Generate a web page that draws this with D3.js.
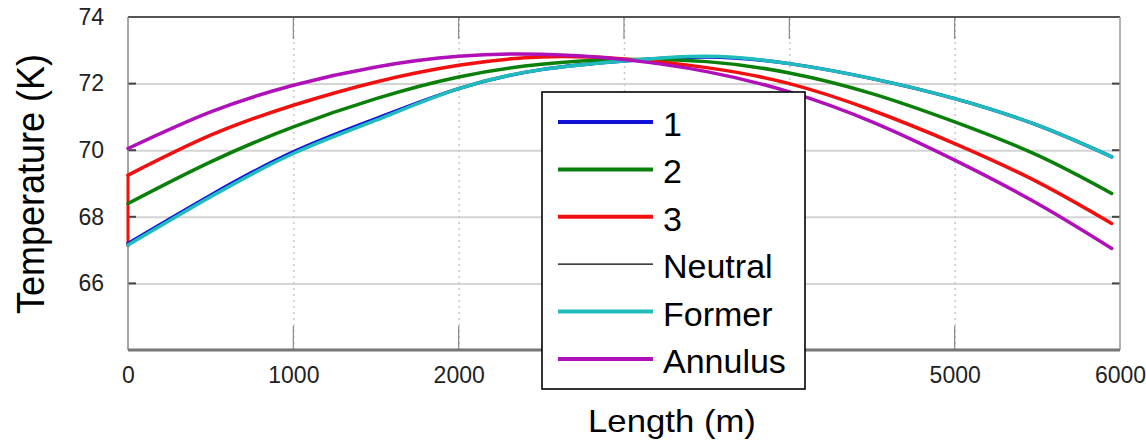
<!DOCTYPE html>
<html>
<head>
<meta charset="UTF-8">
<title>Temperature vs Length</title>
<script src="https://d3js.org/d3.v7.min.js"></script>
<style>
  body { margin: 0; background: #fff; }
  text { font-family: "Liberation Sans", Arial, sans-serif; }
</style>
</head>
<body>
<div id="my_dataviz"></div>
<script>
// data (length in m, temperature in K)
var lengths = [0, 500, 1000, 1500, 2000, 2500, 3000, 3500, 4000, 4500, 5000, 5500, 5950];
var series1 = [67.2, 68.65, 69.95, 70.95, 71.85, 72.42, 72.68, 72.8, 72.6, 72.15, 71.55, 70.75, 69.8];
var series2 = [68.4, 69.65, 70.7, 71.55, 72.2, 72.58, 72.72, 72.66, 72.32, 71.7, 70.85, 69.85, 68.7];
var series3 = [69.25, 70.45, 71.35, 72.05, 72.55, 72.8, 72.74, 72.48, 72.0, 71.2, 70.2, 69.05, 67.8];
var series3Start = 67.1;
var neutral = [67.15, 68.6, 69.9, 70.9, 71.85, 72.42, 72.68, 72.82, 72.6, 72.15, 71.55, 70.75, 69.8];
var former = [67.15, 68.6, 69.9, 70.9, 71.85, 72.42, 72.68, 72.82, 72.6, 72.15, 71.55, 70.75, 69.8];
var annulus = [70.05, 71.15, 71.95, 72.5, 72.82, 72.88, 72.72, 72.36, 71.75, 70.85, 69.7, 68.4, 67.05];

var seriesNames = ["1", "2", "3", "Neutral", "Former", "Annulus"];
var seriesColors = ["#1010d8", "#0a800a", "#f01010", "#000000", "#20bcbc", "#b010b8"];
var xTickLabels = [0, 1000, 2000, 5000, 6000];
var yTickLabels = [66, 68, 70, 72, 74];

var allSeries = [series1, series2, series3, neutral, former, annulus];

var margin = {top: 17, right: 26, bottom: 92, left: 128},
    width = 1146 - margin.left - margin.right,
    height = 442 - margin.top - margin.bottom;

var svg = d3.select("#my_dataviz")
  .append("svg")
    .attr("width", 1146)
    .attr("height", 442)
  .append("g")
    .attr("transform", "translate(" + margin.left + "," + margin.top + ")");

var x = d3.scaleLinear().domain([0, 6000]).range([0, width]);
var y = d3.scaleLinear().domain([64, 74]).range([height, 0]);

// horizontal grid
svg.append("g")
  .call(d3.axisLeft(y).tickValues([66, 68, 70, 72]).tickSize(-width).tickFormat(""))
  .call(function(g) { g.select(".domain").remove(); })
  .selectAll("line")
    .attr("stroke", "#d4d4d4")
    .attr("stroke-width", 2);

// vertical dotted grid
svg.append("g")
  .attr("transform", "translate(0," + height + ")")
  .call(d3.axisBottom(x).tickValues([1000, 2000, 3000, 4000, 5000]).tickSize(-height).tickFormat(""))
  .call(function(g) { g.select(".domain").remove(); })
  .selectAll("line")
    .attr("stroke", "#c8c8c8")
    .attr("stroke-width", 1.5)
    .attr("stroke-dasharray", "2,4");

// tick marks on the frame
svg.append("g").selectAll("line").data([1000, 2000, 3000, 4000, 5000]).enter()
  .append("line")
    .attr("x1", function(d) { return x(d); }).attr("x2", function(d) { return x(d); })
    .attr("y1", 0).attr("y2", 22)
    .attr("stroke", "#888").attr("stroke-width", 1.2);
svg.append("g").selectAll("line").data([1000, 2000, 3000, 4000, 5000]).enter()
  .append("line")
    .attr("x1", function(d) { return x(d); }).attr("x2", function(d) { return x(d); })
    .attr("y1", height - 24).attr("y2", height)
    .attr("stroke", "#888").attr("stroke-width", 1.2);
svg.append("g").selectAll("line").data([66, 68, 70, 72]).enter()
  .append("line")
    .attr("x1", 0).attr("x2", 8)
    .attr("y1", function(d) { return y(d); }).attr("y2", function(d) { return y(d); })
    .attr("stroke", "#444").attr("stroke-width", 2);
svg.append("g").selectAll("line").data([66, 68, 70, 72]).enter()
  .append("line")
    .attr("x1", width - 8).attr("x2", width)
    .attr("y1", function(d) { return y(d); }).attr("y2", function(d) { return y(d); })
    .attr("stroke", "#444").attr("stroke-width", 2);

// frame
svg.append("line").attr("x1", 0).attr("x2", width).attr("y1", 0).attr("y2", 0)
  .attr("stroke", "#555").attr("stroke-width", 2);
svg.append("line").attr("x1", 0).attr("x2", 0).attr("y1", 0).attr("y2", height)
  .attr("stroke", "#888").attr("stroke-width", 1.5);
svg.append("line").attr("x1", width).attr("x2", width).attr("y1", 0).attr("y2", height)
  .attr("stroke", "#999").attr("stroke-width", 1.5);
svg.append("line").attr("x1", 0).attr("x2", width).attr("y1", height).attr("y2", height)
  .attr("stroke", "#777").attr("stroke-width", 3);

// tick labels (3000 and 4000 sit under the legend in the picture)
var xAxis = svg.append("g")
  .attr("transform", "translate(0," + height + ")")
  .call(d3.axisBottom(x).tickValues(xTickLabels).tickSize(0).tickPadding(17).tickFormat(d3.format("d")));
xAxis.select(".domain").remove();
xAxis.selectAll("text").attr("font-size", 23).attr("fill", "#222")
  .style("font-family", "'Liberation Sans', Arial, sans-serif");

var yAxis = svg.append("g")
  .call(d3.axisLeft(y).tickValues(yTickLabels).tickSize(0).tickPadding(24));
yAxis.select(".domain").remove();
yAxis.selectAll("text").attr("font-size", 23).attr("fill", "#222")
  .style("font-family", "'Liberation Sans', Arial, sans-serif");

// lines
var line = d3.line()
  .x(function(d) { return x(d[0]); })
  .y(function(d) { return y(d[1]); })
  .curve(d3.curveNatural);

// the jump of series 3 at the inlet
svg.append("path")
  .datum([[0, series3Start], [0, series3[0]]])
  .attr("fill", "none")
  .attr("stroke", seriesColors[2])
  .attr("stroke-width", 3)
  .attr("d", d3.line().x(function(d) { return x(d[0]); }).y(function(d) { return y(d[1]); }));

allSeries.forEach(function(vals, i) {
  var pts = lengths.map(function(l, j) { return [l, vals[j]]; });
  svg.append("path")
    .datum(pts)
    .attr("fill", "none")
    .attr("stroke", seriesColors[i])
    .attr("stroke-width", seriesNames[i] == "Neutral" ? 1.2 : 3.5)
    .attr("stroke-linecap", "round")
    .attr("d", line);
});

// legend
var legend = svg.append("g").attr("transform", "translate(" + (542 - margin.left) + "," + (92 - margin.top) + ")");
legend.append("rect")
  .attr("width", 263).attr("height", 297)
  .attr("fill", "#fff").attr("stroke", "#000").attr("stroke-width", 1.6);
var items = legend.selectAll(".item").data(seriesNames).enter()
  .append("g")
    .attr("transform", function(d, i) { return "translate(0," + (30 + i * 47.4) + ")"; });
items.append("line")
  .attr("x1", 16).attr("x2", 111)
  .attr("stroke", function(d, i) { return seriesColors[i]; })
  .attr("stroke-width", function(d) { return d == "Neutral" ? 1.2 : 4; });
items.append("text")
  .attr("x", 121).attr("y", 14)
  .attr("font-size", 34)
  .attr("fill", "#000")
  .text(function(d) { return d; });

// axis titles
svg.append("text")
  .attr("transform", "translate(" + (672 - margin.left) + "," + (432 - margin.top) + ") scale(1.12,1)")
  .attr("text-anchor", "middle")
  .attr("font-size", 31)
  .text("Length (m)");

svg.append("text")
  .attr("transform", "translate(" + (44 - margin.left) + "," + (184 - margin.top) + ") rotate(-90) scale(1,1.08)")
  .attr("text-anchor", "middle")
  .attr("font-size", 36)
  .text("Temperature (K)");
</script>
</body>
</html>
